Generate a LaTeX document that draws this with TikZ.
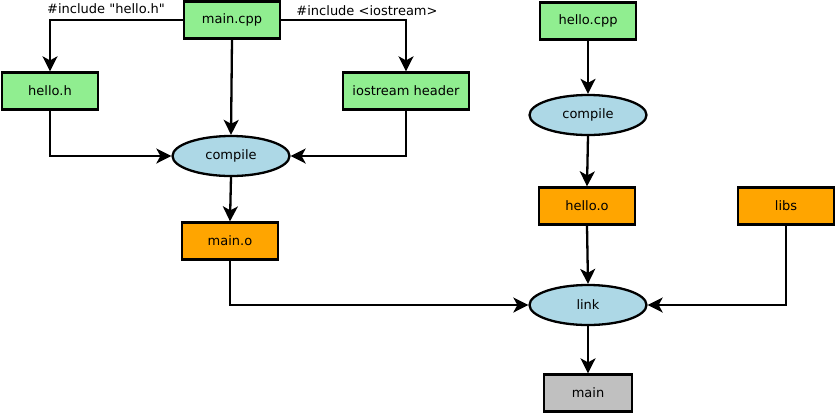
\documentclass[tikz,border=0pt]{standalone}
\usepackage{fontspec}
\setmainfont[Ligatures=TeXOff]{DejaVu Sans}
\usetikzlibrary{arrows.meta,shapes.geometric}
\definecolor{lgreen}{HTML}{90EE90}
\definecolor{lblue}{HTML}{ADD8E6}
\definecolor{orng}{HTML}{FFA500}
\definecolor{gry}{HTML}{C0C0C0}
\tikzset{
  base/.style={draw=black, line width=2.3pt, inner sep=0pt, font=\fontsize{13}{15}\selectfont},
  src/.style={base, rectangle, fill=lgreen, minimum width=96pt, minimum height=37pt},
  obj/.style={base, rectangle, fill=orng, minimum width=96pt, minimum height=37pt},
  exe/.style={base, rectangle, fill=gry, minimum width=88pt, minimum height=37pt},
  proc/.style={base, ellipse, fill=lblue, minimum width=117pt, minimum height=40pt},
  conn/.style={line width=2.3pt, -{Stealth[length=15pt,width=15pt,inset=4pt]}},
  lbl/.style={font=\fontsize{13}{15}\selectfont, inner sep=0pt}
}
\begin{document}
\begin{tikzpicture}[x=1pt,y=-1pt]
\useasboundingbox (0,0) rectangle (835,413);
\node[src] (maincpp) at (232,20) {main.cpp};
\node[src] (helloh) at (50,91) {hello.h};
\node[src, minimum width=126pt] (iostr) at (406,91) {iostream header};
\node[proc] (comp1) at (231,156) {compile};
\node[obj] (maino) at (230,241) {main.o};
\node[src] (hellocpp) at (588,21) {hello.cpp};
\node[proc] (comp2) at (588,115) {compile};
\node[obj] (helloo) at (587,206) {hello.o};
\node[obj] (libs) at (786,206) {libs};
\node[proc] (link) at (588,305) {link};
\node[exe] (main) at (588,393) {main};
\node[lbl] (l1) at (106,9) {\#include "hello.h"};
\node[lbl] (l2) at (367,11) {\#include <iostream>};
\draw[conn] (maincpp.west) -| (helloh.north);
\draw[conn] (maincpp.east) -| (iostr.north);
\draw[conn] (maincpp.south) -- (comp1.north);
\draw[conn] (helloh.south) |- (comp1.west);
\draw[conn] (iostr.south) |- (comp1.east);
\draw[conn] (comp1.south) -- (maino.north);
\draw[conn] (maino.south) |- (link.west);
\draw[conn] (hellocpp.south) -- (comp2.north);
\draw[conn] (comp2.south) -- (helloo.north);
\draw[conn] (helloo.south) -- (link.north);
\draw[conn] (libs.south) |- (link.east);
\draw[conn] (link.south) -- (main.north);
\end{tikzpicture}
\end{document}
